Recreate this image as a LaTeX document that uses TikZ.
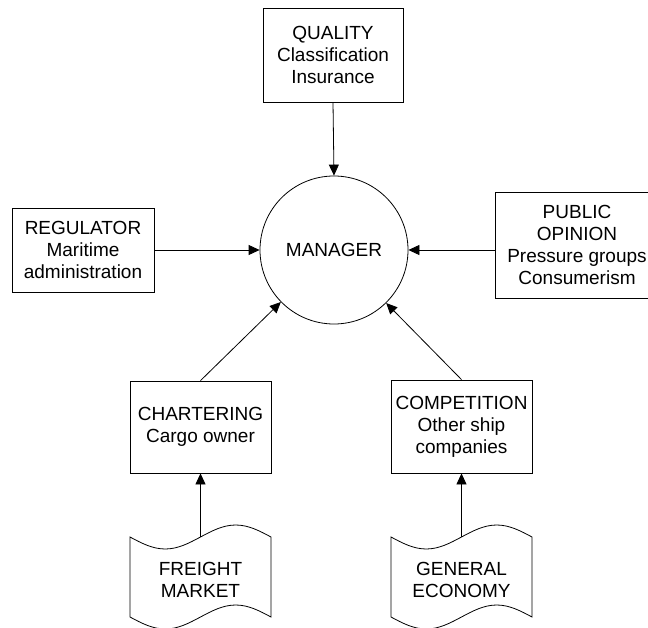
\documentclass[tikz,border=0pt]{standalone}
\usepackage{fontspec}
\setmainfont{Liberation Sans}
\usetikzlibrary{arrows.meta}
\begin{document}
\begin{tikzpicture}[x=1pt,y=-1pt,
  every node/.style={font=\fontsize{19}{22}\selectfont, align=center, inner sep=0pt},
  box/.style={draw, line width=0.8pt},
  conn/.style={line width=0.8pt, -{Triangle[length=11pt,width=10pt]}},
  wave/.style={draw, line width=0.8pt}]
\useasboundingbox (0,0) rectangle (648,628);

\node[box, minimum width=140pt, minimum height=94pt] (quality) at (333,55) {QUALITY\\Classification\\Insurance};
\node[draw, circle, line width=0.8pt, minimum size=148pt] (mgr) at (334,250) {MANAGER};
\node[box, minimum width=142pt, minimum height=84pt] (reg) at (83,250) {REGULATOR\\Maritime\\administration};
\node[box, minimum width=164pt, minimum height=106pt] (pub) at (577,245) {PUBLIC\\OPINION\\Pressure groups\\Consumerism};
\node[box, minimum width=141pt, minimum height=92pt] (chart) at (200.5,427) {CHARTERING\\Cargo owner};
\node[box, minimum width=141pt, minimum height=93pt] (comp) at (461.5,426.5) {COMPETITION\\Other ship\\companies};

% wave (document) shapes
\draw[wave] (130,537) sin (165.25,549) cos (200.5,537) sin (235.75,525) cos (271,537)
  -- (271,617) sin (235.75,605) cos (200.5,617) sin (165.25,629) cos (130,617) -- cycle;
\draw[wave] (391,537) sin (426.25,549) cos (461.5,537) sin (496.75,525) cos (532,537)
  -- (532,617) sin (496.75,605) cos (461.5,617) sin (426.25,629) cos (391,617) -- cycle;
\node (freight) at (200.5,580) {FREIGHT\\MARKET};
\node (econ) at (461.5,580) {GENERAL\\ECONOMY};
\coordinate (fmtop) at (200.5,537);
\coordinate (getop) at (461.5,537);

% connectors
\draw[conn] (quality.south) -- (mgr.north);
\draw[conn] (reg.east) -- (mgr.west);
\draw[conn] (pub.west |- mgr.east) -- (mgr.east);
\draw[conn] (chart.north) -- (mgr);
\draw[conn] (comp.north) -- (mgr);
\draw[conn] (fmtop) -- (chart.south);
\draw[conn] (getop) -- (comp.south);
\end{tikzpicture}
\end{document}
